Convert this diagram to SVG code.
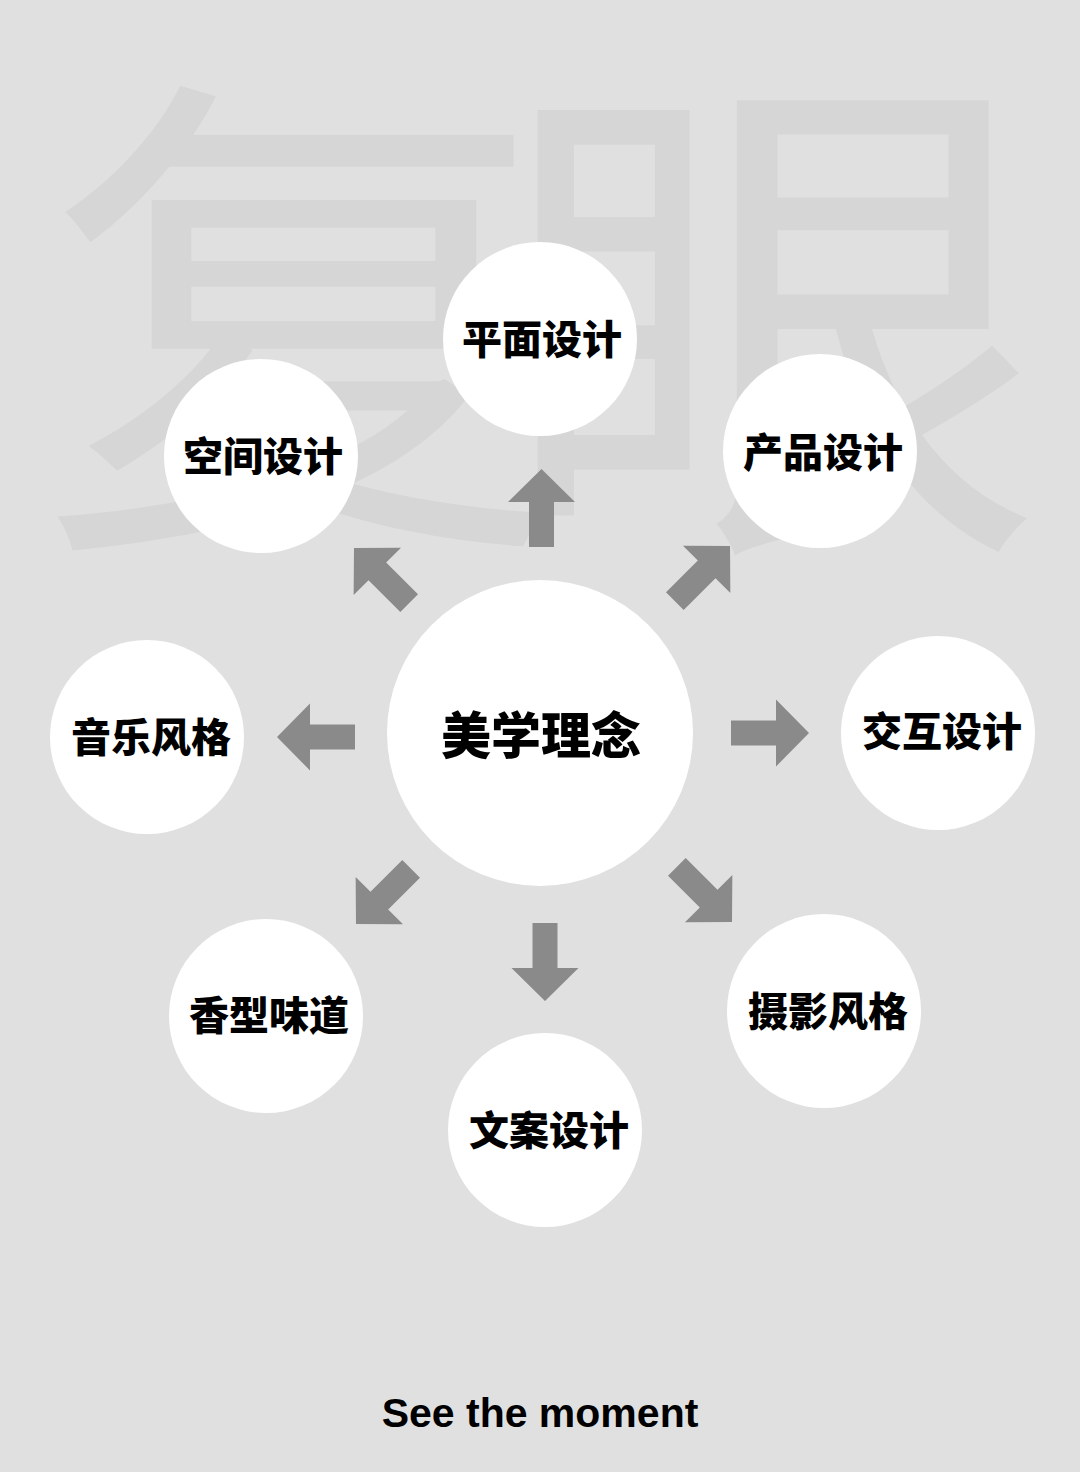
<svg xmlns="http://www.w3.org/2000/svg" width="1080" height="1472" viewBox="0 0 1080 1472">
<style>
.bg{fill:#e0e0e0}
.wm{fill:#d6d6d6;font-family:"Noto Sans CJK SC",sans-serif;font-weight:400;font-size:500px}
.node{fill:#ffffff}
.lbl{fill:#000;font-family:"Noto Sans CJK SC",sans-serif;font-weight:900;font-size:40px;text-anchor:middle}
.big{font-size:50px}
.arr{fill:#8a8a8a}
.foot{fill:#000;font-family:"Liberation Sans",Arial,sans-serif;font-weight:700;font-size:41px;text-anchor:middle}
</style>
<defs>
<path id="ar" d="M0,0 L-33,-33.5 L-33,-12.5 L-78,-12.5 L-78,12.5 L-33,12.5 L-33,33.5 Z"/>
</defs>
<rect class="bg" x="0" y="0" width="1080" height="1472"/>
<g id="watermark">
<text class="wm" transform="translate(40,510) scale(1.05,1.01)" x="0" y="0">复</text>
<text class="wm" transform="translate(497,514) scale(1.1,1.04)" x="0" y="0">眼</text>
</g>
<g id="connectors">
<use href="#ar" class="arr" transform="translate(541.5,469) rotate(-90)"/>
<use href="#ar" class="arr" transform="translate(277,737) rotate(180)"/>
<use href="#ar" class="arr" transform="translate(809,733)"/>
<use href="#ar" class="arr" transform="translate(545,1001) rotate(90)"/>
<use href="#ar" class="arr" transform="translate(354,548) rotate(-135)"/>
<use href="#ar" class="arr" transform="translate(730,546) rotate(-45)"/>
<use href="#ar" class="arr" transform="translate(356,924) rotate(135)"/>
<use href="#ar" class="arr" transform="translate(732,922) rotate(45)"/>
</g>
<g id="n-center"><circle class="node" cx="540" cy="733" r="153"/><text class="lbl big" x="541" y="754">美学理念</text></g>
<g id="n-pingmian"><circle class="node" cx="540" cy="339" r="97"/><text class="lbl" x="542" y="354">平面设计</text></g>
<g id="n-kongjian"><circle class="node" cx="261" cy="456" r="97"/><text class="lbl" x="263" y="471">空间设计</text></g>
<g id="n-chanpin"><circle class="node" cx="820" cy="451" r="97"/><text class="lbl" x="823" y="467">产品设计</text></g>
<g id="n-yinyue"><circle class="node" cx="147" cy="737" r="97"/><text class="lbl" x="151" y="752">音乐风格</text></g>
<g id="n-jiaohu"><circle class="node" cx="938" cy="733" r="97"/><text class="lbl" x="942" y="746">交互设计</text></g>
<g id="n-xiangxing"><circle class="node" cx="266" cy="1016" r="97"/><text class="lbl" x="269" y="1030">香型味道</text></g>
<g id="n-sheying"><circle class="node" cx="824" cy="1011" r="97"/><text class="lbl" x="828" y="1026">摄影风格</text></g>
<g id="n-wenan"><circle class="node" cx="545" cy="1130" r="97"/><text class="lbl" x="549" y="1145">文案设计</text></g>
<text class="foot" x="540" y="1427">See the moment</text>
</svg>
